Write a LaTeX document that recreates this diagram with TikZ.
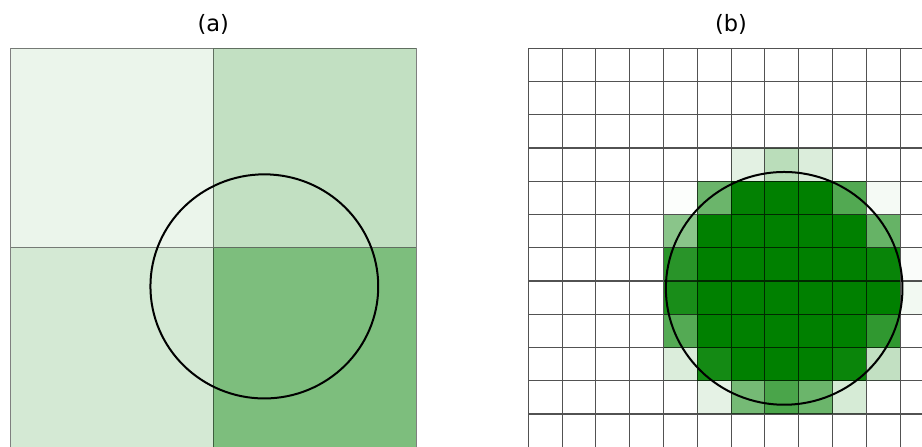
\documentclass[tikz,border=0pt]{standalone}
\usepackage{fontspec}
\setmainfont{DejaVu Sans}
\definecolor{dg}{RGB}{0,128,0}
\tikzset{
  gridA/.style={draw=black, draw opacity=0.5, line width=0.9pt},
  gridB/.style={draw=black, draw opacity=0.68, line width=1.15pt},
  ring/.style={draw=black, line width=2pt},
  title/.style={font=\fontsize{22.5}{27}\selectfont, anchor=base, inner sep=0pt}
}
% coverage of cell (#1,#2) by the circle (\bcx,\bcy,\br), in percent
\newcount\covk
\newcommand\covcalc[2]{%
  \def\covacc{0}%
  \covk=0
  \loop\ifnum\covk<24
    \advance\covk by 1
    \edef\covx{\fpeval{#1+(\the\covk-0.5)/24-\bcx}}%
    \edef\covs{\fpeval{sqrt(max(0,\br*\br-(\covx)*(\covx)))}}%
    \edef\covacc{\fpeval{\covacc+max(0,min(#2+1,\bcy+\covs)-max(#2,\bcy-\covs))}}%
  \repeat
  \edef\covpct{\fpeval{round(\covacc*100/24)}}%
}
\def\bcx{7.57}
\def\bcy{7.22}
\def\br{3.5}
\begin{document}
\begin{tikzpicture}[x=1pt,y=-1pt]
\useasboundingbox (0,0) rectangle (922,447);
\clip (0,0) rectangle (922,447);
\fill[white] (0,0) rectangle (922,447);

% titles
\node[title] (ta) at (213.3,31) {(a)};
\node[title] (tb) at (731.1,31) {(b)};

% panel (a)
\begin{scope}[shift={(10.5,48)}, x=33.8pt, y=-33.25pt]
  \fill[dg!8!white]  (0,0) rectangle (6,6);
  \fill[dg!24!white] (6,0) rectangle (12,6);
  \fill[dg!17!white] (0,6) rectangle (6,12);
  \fill[dg!51!white] (6,6) rectangle (12,12);
  \draw[gridA] (0,0) rectangle (12,12) (6,0) -- (6,12) (0,6) -- (12,6);
  \draw[ring] (7.51,7.17) circle [radius=3.37];
\end{scope}

% panel (b)
\begin{scope}[shift={(528.3,48.3)}, x=33.8pt, y=-33.25pt]
  \foreach \i in {3,...,11}{
    \foreach \j in {2,...,11}{
      \covcalc{\i}{\j}%
      \ifnum\covpct>0
        \fill[dg!\covpct!white] (\i,\j) rectangle ++(1,1);
      \fi
    }
  }
  \draw[gridB] foreach \k in {0,...,12} {(\k,0) -- (\k,12) (0,\k) -- (12,\k)};
  \draw[ring] (\bcx,\bcy) circle [radius=\br];
\end{scope}
\end{tikzpicture}
\end{document}
